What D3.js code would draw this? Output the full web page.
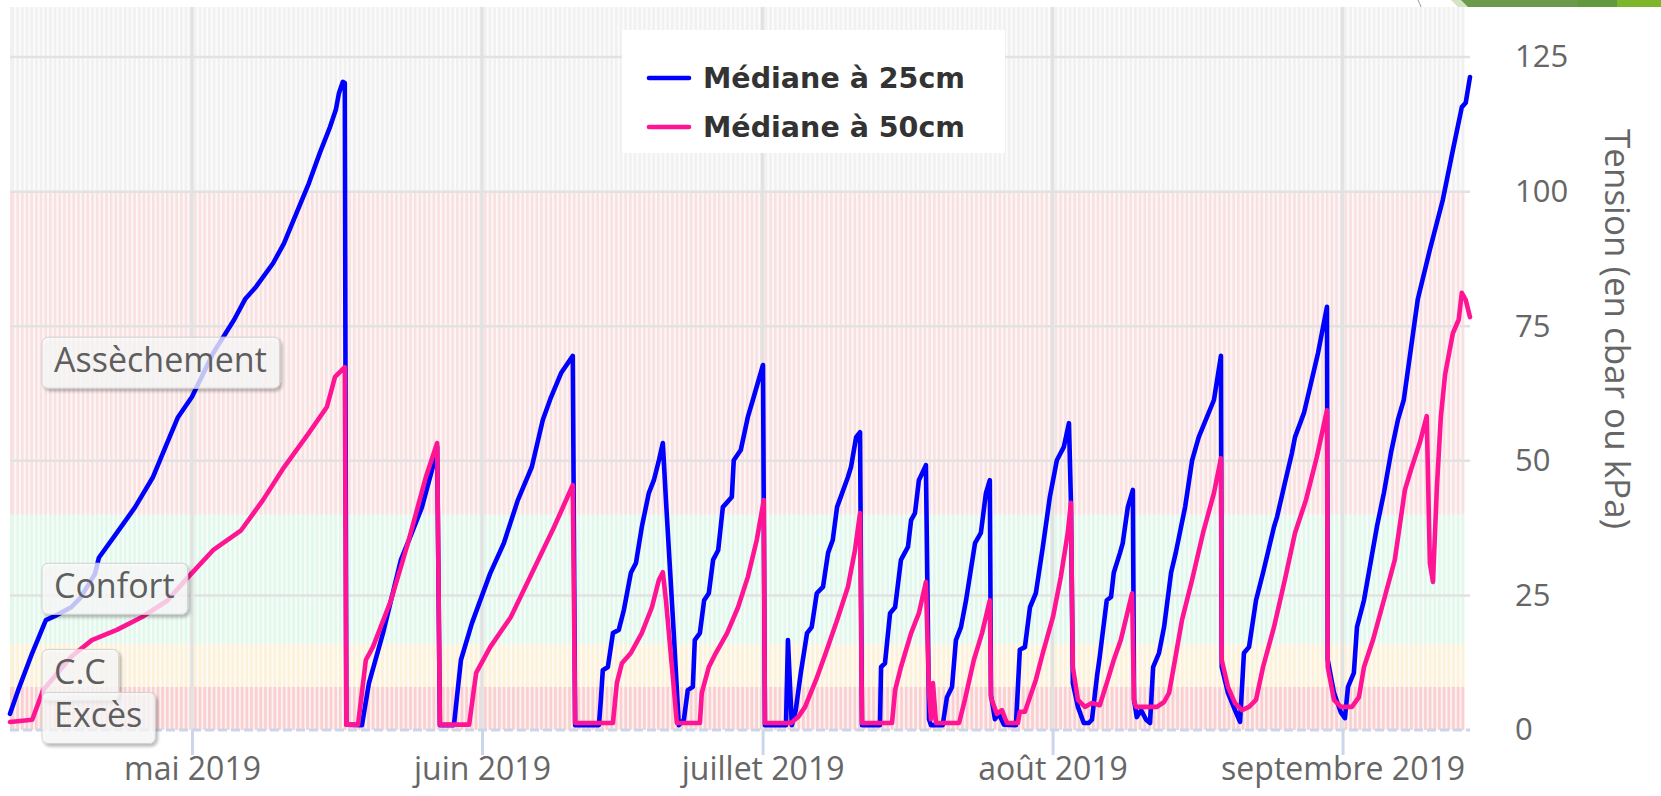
<!DOCTYPE html>
<html>
<head>
<meta charset="utf-8">
<script src="https://cdn.jsdelivr.net/npm/d3@7"></script>
<style>
  body { margin: 0; background: #fff; }
  svg { display: block; }
</style>
</head>
<body>
<script>
var w = 1661;
var h = 796;

// Médiane à 25cm (bleu)
var blue25 = [
  ["2019-04-11 13:00", 3.0], ["2019-04-12 10:00", 7.4], ["2019-04-13 22:00", 14.3], ["2019-04-15 09:00", 20.4],
  ["2019-04-16 09:00", 21.2], ["2019-04-18 02:00", 22.8], ["2019-04-19 01:00", 24.5], ["2019-04-20 15:00", 29.0],
  ["2019-04-21 01:00", 32.0], ["2019-04-22 23:00", 36.6], ["2019-04-24 22:00", 41.4], ["2019-04-26 20:00", 47.0],
  ["2019-04-28 08:00", 53.3], ["2019-04-29 12:00", 58.1], ["2019-05-01 00:00", 61.9], ["2019-05-03 06:00", 70.0],
  ["2019-05-05 12:00", 76.2], ["2019-05-06 16:00", 80.0], ["2019-05-07 20:00", 82.3], ["2019-05-09 16:00", 86.7],
  ["2019-05-10 20:00", 90.4], ["2019-05-12 00:00", 95.3], ["2019-05-13 12:00", 101.6], ["2019-05-14 16:00", 107.2],
  ["2019-05-15 18:00", 112.0], ["2019-05-16 09:00", 115.2], ["2019-05-16 17:00", 118.3], ["2019-05-17 03:00", 120.4],
  ["2019-05-17 08:00", 120.2], ["2019-05-17 12:00", 1.0], ["2019-05-19 04:00", 0.9], ["2019-05-19 22:00", 8.7],
  ["2019-05-21 10:00", 18.0], ["2019-05-23 08:00", 31.6], ["2019-05-24 12:00", 36.6], ["2019-05-25 14:00", 41.4],
  ["2019-05-26 18:00", 48.9], ["2019-05-27 05:00", 52.6], ["2019-05-27 12:00", 0.9], ["2019-05-29 00:00", 0.9],
  ["2019-05-29 18:00", 13.0], ["2019-05-30 22:00", 19.8], ["2019-06-01 21:00", 29.1], ["2019-06-03 08:00", 34.7],
  ["2019-06-04 20:00", 42.7], ["2019-06-06 08:00", 48.9], ["2019-06-07 12:00", 57.6], ["2019-06-08 09:00", 61.8],
  ["2019-06-09 11:00", 66.3], ["2019-06-10 17:00", 69.5], ["2019-06-10 23:00", 0.9], ["2019-06-13 12:00", 0.9],
  ["2019-06-13 17:00", 5.6], ["2019-06-13 22:00", 11.1], ["2019-06-14 11:00", 11.7], ["2019-06-15 00:00", 18.0],
  ["2019-06-15 15:00", 18.6], ["2019-06-16 04:00", 22.3], ["2019-06-16 22:00", 29.2], ["2019-06-17 11:00", 31.0],
  ["2019-06-18 02:00", 37.7], ["2019-06-18 20:00", 44.0], ["2019-06-19 09:00", 46.4], ["2019-06-19 22:00", 50.1],
  ["2019-06-20 08:00", 53.3], ["2019-06-20 16:00", 42.7], ["2019-06-21 12:00", 18.0], ["2019-06-22 01:00", 0.9],
  ["2019-06-22 14:00", 1.9], ["2019-06-23 00:00", 7.4], ["2019-06-23 13:00", 8.0], ["2019-06-23 18:00", 16.7],
  ["2019-06-24 07:00", 18.0], ["2019-06-24 18:00", 24.1], ["2019-06-25 06:00", 25.4], ["2019-06-25 17:00", 31.6],
  ["2019-06-26 06:00", 33.4], ["2019-06-26 18:00", 41.4], ["2019-06-27 17:00", 43.3], ["2019-06-27 22:00", 50.1],
  ["2019-06-28 16:00", 52.0], ["2019-06-29 10:00", 58.1], ["2019-06-29 23:00", 61.3], ["2019-07-01 01:00", 67.8],
  ["2019-07-01 06:00", 0.9], ["2019-07-03 12:00", 0.9], ["2019-07-03 17:00", 16.7], ["2019-07-04 03:00", 0.9],
  ["2019-07-04 13:00", 3.7], ["2019-07-05 02:00", 10.6], ["2019-07-05 18:00", 18.0], ["2019-07-06 06:00", 19.1],
  ["2019-07-06 19:00", 25.4], ["2019-07-07 11:00", 26.6], ["2019-07-08 00:00", 32.9], ["2019-07-08 12:00", 35.3],
  ["2019-07-08 23:00", 41.4], ["2019-07-09 12:00", 44.0], ["2019-07-10 03:00", 47.0], ["2019-07-10 11:00", 48.9],
  ["2019-07-11 00:00", 54.4], ["2019-07-11 10:00", 55.3], ["2019-07-11 15:00", 0.9], ["2019-07-13 13:00", 0.9],
  ["2019-07-13 16:00", 11.7], ["2019-07-14 02:00", 12.4], ["2019-07-14 15:00", 21.7], ["2019-07-15 04:00", 22.8],
  ["2019-07-15 19:00", 31.6], ["2019-07-16 13:00", 34.0], ["2019-07-16 21:00", 39.0], ["2019-07-17 07:00", 40.3],
  ["2019-07-17 17:00", 46.4], ["2019-07-18 11:00", 49.2], ["2019-07-18 19:00", 2.0], ["2019-07-19 00:00", 0.9],
  ["2019-07-20 06:00", 0.9], ["2019-07-20 17:00", 6.1], ["2019-07-21 06:00", 8.0], ["2019-07-21 16:00", 16.7],
  ["2019-07-22 05:00", 19.1], ["2019-07-22 18:00", 24.1], ["2019-07-23 17:00", 34.7], ["2019-07-24 08:00", 36.6],
  ["2019-07-24 21:00", 44.0], ["2019-07-25 07:00", 46.4], ["2019-07-25 10:00", 6.5], ["2019-07-25 20:00", 2.0],
  ["2019-07-26 06:00", 3.0], ["2019-07-26 19:00", 1.0], ["2019-07-28 02:00", 0.9], ["2019-07-28 12:00", 14.9],
  ["2019-07-29 01:00", 15.4], ["2019-07-29 14:00", 22.8], ["2019-07-30 05:00", 25.4], ["2019-07-30 23:00", 34.0],
  ["2019-07-31 17:00", 43.3], ["2019-08-01 11:00", 50.1], ["2019-08-02 05:00", 52.6], ["2019-08-02 18:00", 57.0],
  ["2019-08-02 23:00", 42.7], ["2019-08-03 04:00", 8.7], ["2019-08-03 17:00", 4.3], ["2019-08-04 08:00", 1.3],
  ["2019-08-04 21:00", 1.3], ["2019-08-05 05:00", 1.9], ["2019-08-05 18:00", 10.0], ["2019-08-06 01:00", 13.6],
  ["2019-08-06 19:00", 24.1], ["2019-08-07 06:00", 24.7], ["2019-08-07 13:00", 29.2], ["2019-08-08 05:00", 32.9],
  ["2019-08-08 12:00", 34.7], ["2019-08-09 01:00", 41.4], ["2019-08-09 14:00", 44.6], ["2019-08-09 17:00", 5.6],
  ["2019-08-10 00:00", 2.4], ["2019-08-10 11:00", 3.7], ["2019-08-11 00:00", 1.9], ["2019-08-11 10:00", 1.3],
  ["2019-08-11 18:00", 11.7], ["2019-08-12 09:00", 14.3], ["2019-08-12 22:00", 19.1], ["2019-08-13 16:00", 29.2],
  ["2019-08-14 04:00", 32.9], ["2019-08-15 04:00", 41.4], ["2019-08-15 22:00", 50.1], ["2019-08-16 15:00", 54.4],
  ["2019-08-17 12:00", 58.1], ["2019-08-18 06:00", 61.3], ["2019-08-19 00:00", 69.5], ["2019-08-19 02:00", 11.7],
  ["2019-08-19 18:00", 6.9], ["2019-08-20 12:00", 3.7], ["2019-08-21 01:00", 1.5], ["2019-08-21 11:00", 14.3],
  ["2019-08-22 00:00", 15.4], ["2019-08-22 18:00", 24.1], ["2019-08-23 12:00", 29.2], ["2019-08-24 16:00", 37.7],
  ["2019-08-25 00:00", 39.6], ["2019-08-25 20:00", 45.9], ["2019-08-26 14:00", 51.4], ["2019-08-26 22:00", 54.4],
  ["2019-08-27 21:00", 58.9], ["2019-08-29 09:00", 70.0], ["2019-08-30 08:00", 78.6], ["2019-08-30 10:00", 13.0],
  ["2019-08-31 02:00", 6.9], ["2019-08-31 20:00", 3.2], ["2019-09-01 06:00", 2.2], ["2019-09-01 14:00", 8.0],
  ["2019-09-02 05:00", 10.6], ["2019-09-02 13:00", 19.1], ["2019-09-03 07:00", 24.1], ["2019-09-03 22:00", 30.3],
  ["2019-09-04 16:00", 37.7], ["2019-09-05 10:00", 44.0], ["2019-09-06 04:00", 51.4], ["2019-09-06 22:00", 57.6],
  ["2019-09-07 13:00", 61.3], ["2019-09-09 01:00", 80.0], ["2019-09-10 08:00", 89.2], ["2019-09-11 17:00", 98.4],
  ["2019-09-12 19:00", 107.7], ["2019-09-13 18:00", 115.7], ["2019-09-14 04:00", 116.5], ["2019-09-14 15:00", 121.3]
];

// Médiane à 50cm (rose)
var pink50 = [
  ["2019-04-11 13:00", 1.5], ["2019-04-13 22:00", 1.9], ["2019-04-15 02:00", 7.4], ["2019-04-18 02:00", 13.6],
  ["2019-04-20 07:00", 16.7], ["2019-04-22 23:00", 18.6], ["2019-04-25 16:00", 21.0], ["2019-04-28 08:00", 24.0],
  ["2019-04-30 14:00", 28.4], ["2019-05-03 06:00", 33.4], ["2019-05-06 06:00", 37.1], ["2019-05-08 14:00", 42.7],
  ["2019-05-10 20:00", 48.8], ["2019-05-13 12:00", 55.2], ["2019-05-15 10:00", 60.0], ["2019-05-16 07:00", 65.6],
  ["2019-05-17 08:00", 67.4], ["2019-05-17 12:00", 1.0], ["2019-05-18 18:00", 1.0], ["2019-05-19 14:00", 13.0],
  ["2019-05-20 08:00", 15.4], ["2019-05-22 06:00", 24.0], ["2019-05-24 02:00", 34.7], ["2019-05-26 00:00", 47.0],
  ["2019-05-27 05:00", 53.3], ["2019-05-27 12:00", 1.0], ["2019-05-30 15:00", 1.0], ["2019-05-31 09:00", 10.6],
  ["2019-06-01 21:00", 15.4], ["2019-06-04 02:00", 21.0], ["2019-06-06 08:00", 29.1], ["2019-06-08 17:00", 37.7],
  ["2019-06-10 17:00", 45.5], ["2019-06-10 23:00", 1.3], ["2019-06-15 00:00", 1.3], ["2019-06-15 10:00", 8.7],
  ["2019-06-15 23:00", 12.4], ["2019-06-16 22:00", 14.3], ["2019-06-18 02:00", 18.0], ["2019-06-19 04:00", 22.8],
  ["2019-06-19 22:00", 27.9], ["2019-06-20 08:00", 29.3], ["2019-06-20 16:00", 24.1], ["2019-06-21 12:00", 8.0],
  ["2019-06-21 20:00", 1.3], ["2019-06-24 07:00", 1.3], ["2019-06-24 12:00", 6.9], ["2019-06-25 06:00", 11.7],
  ["2019-06-26 00:00", 14.3], ["2019-06-27 05:00", 18.0], ["2019-06-28 09:00", 22.8], ["2019-06-29 10:00", 28.4],
  ["2019-06-30 09:00", 35.3], ["2019-07-01 03:00", 42.7], ["2019-07-01 06:00", 1.3], ["2019-07-04 01:00", 1.3],
  ["2019-07-04 19:00", 2.4], ["2019-07-05 13:00", 4.3], ["2019-07-06 17:00", 9.3], ["2019-07-07 18:00", 14.3],
  ["2019-07-08 23:00", 20.4], ["2019-07-10 03:00", 26.6], ["2019-07-10 21:00", 33.4], ["2019-07-11 10:00", 40.3],
  ["2019-07-11 15:00", 1.3], ["2019-07-14 20:00", 1.3], ["2019-07-15 04:00", 7.4], ["2019-07-15 19:00", 11.7],
  ["2019-07-16 21:00", 18.0], ["2019-07-17 17:00", 21.7], ["2019-07-18 11:00", 27.5], ["2019-07-18 19:00", 7.0],
  ["2019-07-19 00:00", 2.0], ["2019-07-19 05:00", 8.7], ["2019-07-19 13:00", 1.3], ["2019-07-22 00:00", 1.3],
  ["2019-07-22 15:00", 5.6], ["2019-07-23 14:00", 13.0], ["2019-07-24 11:00", 18.0], ["2019-07-25 07:00", 24.1],
  ["2019-07-25 10:00", 6.0], ["2019-07-26 01:00", 3.0], ["2019-07-26 14:00", 3.7], ["2019-07-27 03:00", 1.3],
  ["2019-07-28 07:00", 1.3], ["2019-07-28 12:00", 3.4], ["2019-07-29 01:00", 3.4], ["2019-07-30 05:00", 9.3],
  ["2019-07-30 23:00", 14.3], ["2019-08-01 01:00", 21.0], ["2019-08-01 21:00", 28.4], ["2019-08-02 15:00", 36.6],
  ["2019-08-02 23:00", 42.2], ["2019-08-03 04:00", 11.7], ["2019-08-03 17:00", 5.6], ["2019-08-04 11:00", 4.3],
  ["2019-08-05 05:00", 5.0], ["2019-08-06 01:00", 4.6], ["2019-08-06 19:00", 8.7], ["2019-08-07 13:00", 13.0],
  ["2019-08-08 07:00", 16.7], ["2019-08-09 12:00", 25.4], ["2019-08-09 17:00", 5.6], ["2019-08-09 22:00", 4.3],
  ["2019-08-11 00:00", 4.3], ["2019-08-12 04:00", 4.3], ["2019-08-12 22:00", 5.2], ["2019-08-13 11:00", 6.9],
  ["2019-08-14 02:00", 13.0], ["2019-08-14 20:00", 20.4], ["2019-08-15 22:00", 27.9], ["2019-08-17 02:00", 36.6],
  ["2019-08-18 06:00", 44.0], ["2019-08-19 00:00", 50.5], ["2019-08-19 02:00", 13.0], ["2019-08-19 18:00", 8.0],
  ["2019-08-20 12:00", 5.0], ["2019-08-21 06:00", 3.7], ["2019-08-22 00:00", 4.3], ["2019-08-22 18:00", 5.6],
  ["2019-08-23 12:00", 11.7], ["2019-08-24 16:00", 19.1], ["2019-08-25 20:00", 27.9], ["2019-08-26 22:00", 36.6],
  ["2019-08-28 02:00", 42.7], ["2019-08-29 06:00", 50.7], ["2019-08-30 08:00", 59.4], ["2019-08-30 10:00", 11.7],
  ["2019-08-31 02:00", 5.6], ["2019-08-31 20:00", 4.3], ["2019-09-02 00:00", 4.3], ["2019-09-02 18:00", 6.1],
  ["2019-09-03 07:00", 11.7], ["2019-09-04 06:00", 16.7], ["2019-09-05 10:00", 24.1], ["2019-09-06 14:00", 31.6],
  ["2019-09-07 16:00", 44.6], ["2019-09-08 10:00", 48.9], ["2019-09-09 06:00", 53.3], ["2019-09-10 00:00", 58.3],
  ["2019-09-10 08:00", 31.0], ["2019-09-10 16:00", 27.5], ["2019-09-11 02:00", 45.0], ["2019-09-11 12:00", 58.0],
  ["2019-09-11 23:00", 66.0], ["2019-09-12 19:00", 73.7], ["2019-09-13 10:00", 76.2], ["2019-09-13 18:00", 81.2],
  ["2019-09-14 04:00", 79.9], ["2019-09-14 15:00", 76.7]
];

var seriesNames = ["Médiane à 25cm", "Médiane à 50cm"];

// zones (cbar)
var bandNames = ["Assèchement", "Confort", "C.C", "Excès"];
var bandFrom = [40, 16, 8, 0];
var bandTo = [100, 40, 16, 8];

var monthTicks = ["2019-05-01 00:00", "2019-06-01 00:00", "2019-07-01 00:00", "2019-08-01 00:00", "2019-09-01 00:00"];
var monthLabels = ["mai 2019", "juin 2019", "juillet 2019", "août 2019", "septembre 2019"];
var yTicks = [0, 25, 50, 75, 100, 125];
var timeRange = ["2019-04-11 13:00", "2019-09-14 15:00"];


var parseTime = d3.timeParse("%Y-%m-%d %H:%M");

var svg = d3.select("body")
        .append("svg")
        .attr("width", w)
        .attr("height", h);

var plotL = 10, plotR = 1470, plotT = 7, plotB = 730;

var x = d3.scaleTime()
        .domain(timeRange.map(parseTime))
        .range([plotL, plotR]);

var y = d3.scaleLinear()
        .domain([0, 134.3])
        .range([plotB, plotT]);

var bandColors = ["#f9e1e1", "#e2f8ec", "#fcf1d9", "#f9cfcf"];

var defs = svg.append("defs");
var shadow = defs.append("filter").attr("id", "shadow")
        .attr("x", "-10%").attr("y", "-20%").attr("width", "130%").attr("height", "150%");
shadow.append("feDropShadow")
        .attr("dx", 2).attr("dy", 2.5)
        .attr("stdDeviation", 1.5)
        .attr("flood-color", "#000")
        .attr("flood-opacity", 0.35);

// fond de la zone de tracé
svg.append("rect")
    .attr("x", plotL).attr("y", plotT)
    .attr("width", plotR - plotL - 5).attr("height", plotB - plotT)
    .attr("fill", "#f1f1f1");

svg.selectAll("rect.band")
    .data(bandNames)
    .enter()
    .append("rect")
    .attr("class", "band")
    .attr("x", plotL)
    .attr("width", plotR - plotL - 5)
    .attr("y", function(d, i) { return y(bandTo[i]); })
    .attr("height", function(d, i) { return y(bandFrom[i]) - y(bandTo[i]); })
    .attr("fill", function(d, i) { return bandColors[i]; });

// rayures
var stripes = d3.timeHour.every(12).range(x.domain()[0], x.domain()[1]);
svg.selectAll("rect.stripe")
    .data(stripes)
    .enter()
    .append("rect")
    .attr("class", "stripe")
    .attr("x", function(d) { return x(d); })
    .attr("y", plotT)
    .attr("width", 2)
    .attr("height", plotB - plotT)
    .attr("fill", "#fff")
    .attr("opacity", 0.7);

// grille
svg.selectAll("line.hgrid")
    .data(yTicks.filter(function(d) { return d > 0; }))
    .enter()
    .append("line")
    .attr("class", "hgrid")
    .attr("x1", plotL).attr("x2", plotR)
    .attr("y1", function(d) { return y(d); })
    .attr("y2", function(d) { return y(d); })
    .attr("stroke", "#e2e2e2")
    .attr("stroke-width", 2.5);

svg.selectAll("line.vgrid")
    .data(monthTicks)
    .enter()
    .append("line")
    .attr("class", "vgrid")
    .attr("x1", function(d) { return x(parseTime(d)); })
    .attr("x2", function(d) { return x(parseTime(d)); })
    .attr("y1", plotT).attr("y2", plotB)
    .attr("stroke", "#e2e2e2")
    .attr("stroke-width", 3.5);

// axe X
var xAxis = d3.axisBottom(x)
        .tickValues(monthTicks.map(parseTime))
        .tickSize(25)
        .tickPadding(0)
        .tickFormat(function(d, i) { return monthLabels[i]; });

var gx = svg.append("g")
    .attr("transform", "translate(0," + plotB + ")")
    .call(xAxis);
gx.select(".domain").remove();
gx.selectAll(".tick line").attr("stroke", "#ccd6eb").attr("stroke-width", 3);
gx.selectAll(".tick text")
    .attr("y", 50)
    .attr("dy", 0)
    .attr("fill", "#666")
    .style("font-family", "'Open Sans', sans-serif")
    .style("font-size", "32px");

svg.append("line")
    .attr("x1", plotL).attr("x2", plotR)
    .attr("y1", plotB).attr("y2", plotB)
    .attr("stroke", "#ccd6eb")
    .attr("stroke-width", 3)
    .attr("stroke-dasharray", "9,4");

// séries
var line = d3.line()
        .x(function(d) { return x(parseTime(d[0])); })
        .y(function(d) { return y(d[1]); });

var seriesColors = ["#0000ff", "#ff1493"];

svg.selectAll("path.serie")
    .data([blue25, pink50])
    .enter()
    .append("path")
    .attr("class", "serie")
    .attr("d", line)
    .attr("fill", "none")
    .attr("stroke", function(d, i) { return seriesColors[i]; })
    .attr("stroke-width", 4.6)
    .attr("stroke-linejoin", "round")
    .attr("stroke-linecap", "round");

// étiquettes des zones
bandNames.forEach(function(name, i) {
    var cy = y((bandFrom[i] + bandTo[i]) / 2) + 9;
    var g = svg.append("g");
    var rect = g.append("rect");
    var t = g.append("text")
        .attr("x", 54)
        .attr("y", cy + 10)
        .attr("fill", "#5e5e5e")
        .style("font-family", "'Open Sans', sans-serif")
        .style("font-size", "34px")
        .text(name);
    var tw = t.node().getComputedTextLength();
    rect.attr("x", 42).attr("y", cy - 25)
        .attr("width", tw + 25).attr("height", 51)
        .attr("rx", 6)
        .attr("fill", "#fff")
        .attr("fill-opacity", 0.72)
        .attr("stroke", "#d0d0d0")
        .attr("stroke-width", 1)
        .attr("filter", "url(#shadow)");
});

// légende
svg.append("rect")
    .attr("x", 622).attr("y", 30)
    .attr("width", 383).attr("height", 123)
    .attr("fill", "#fff");

var leg = svg.selectAll("g.leg")
    .data(seriesNames)
    .enter()
    .append("g")
    .attr("class", "leg")
    .attr("transform", function(d, i) { return "translate(0," + (78 + i * 49) + ")"; });

leg.append("line")
    .attr("x1", 649).attr("x2", 689)
    .attr("stroke", function(d, i) { return seriesColors[i]; })
    .attr("stroke-width", 4.6)
    .attr("stroke-linecap", "round");

leg.append("text")
    .attr("x", 703)
    .attr("y", 10)
    .attr("fill", "#333")
    .style("font-family", "'DejaVu Sans', sans-serif")
    .style("font-weight", "bold")
    .style("font-size", "28.5px")
    .text(function(d) { return d; });

// axe Y (à droite)
var yAxis = d3.axisRight(y)
        .tickValues(yTicks)
        .tickSize(0)
        .tickPadding(0);

var gy = svg.append("g")
    .attr("transform", "translate(1515,0)")
    .call(yAxis);
gy.select(".domain").remove();
gy.selectAll(".tick text")
    .attr("fill", "#666")
    .style("font-family", "'Open Sans', sans-serif")
    .style("font-size", "31px");

svg.append("text")
    .attr("transform", "translate(1605,329) rotate(90)")
    .attr("text-anchor", "middle")
    .attr("fill", "#666")
    .style("font-family", "'Open Sans', sans-serif")
    .style("font-size", "35px")
    .text("Tension (en cbar ou kPa)");

// décor de la diapositive (coin haut droit)
svg.append("path")
    .attr("d", "M1418,0 Q1420,4 1421,7")
    .attr("fill", "none")
    .attr("stroke", "#9a9a9a")
    .attr("stroke-width", 1);
svg.append("polygon")
    .attr("points", "1451,0 1463,0 1470,7 1458,7")
    .attr("fill", "#d3e4c4");
svg.append("polygon")
    .attr("points", "1461,0 1661,0 1661,7 1468,7")
    .attr("fill", "#6b9a4a");
svg.append("polygon")
    .attr("points", "1578,0 1617,0 1617,7 1578,7")
    .attr("fill", "#62993f");
svg.append("polygon")
    .attr("points", "1617,0 1661,0 1661,7 1617,7")
    .attr("fill", "#7db52d");
</script>
</body>
</html>
